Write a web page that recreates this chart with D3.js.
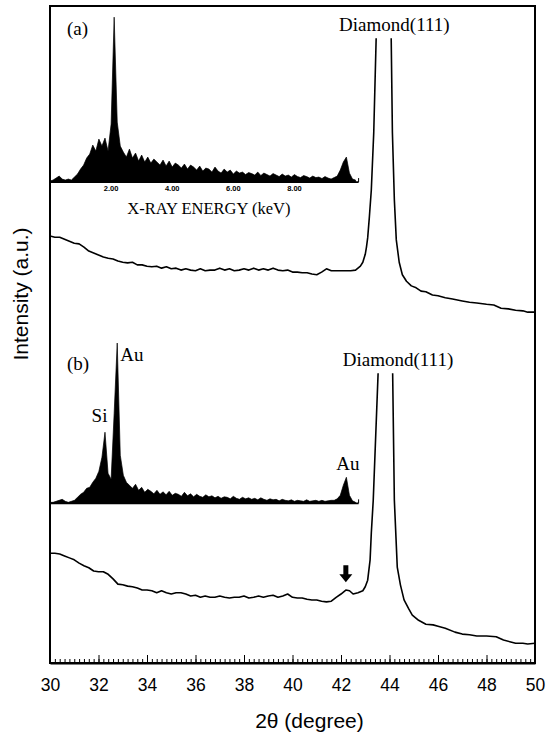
<!DOCTYPE html>
<html lang="en">
  <head>
    <meta charset="utf-8">
    <title>XRD with EDS insets</title>
    <script src="https://d3js.org/d3.v7.min.js"></script>
    <style>
      body { margin: 0; background: #fff; }
      .sans { font-family: "Liberation Sans", Arial, sans-serif; }
      .serif { font-family: "Liberation Serif", "Times New Roman", serif; }
    </style>
  </head>
  <body>
    <script type="text/javascript">
      // XRD trace (a): 2theta (deg) and intensity (a.u.)
      var thetaA = [30.0,30.2,30.4,30.6,30.8,31.0,31.2,31.4,31.6,31.8,32.0,32.2,32.4,32.6,32.8,33.0,33.2,33.4,33.6,33.8,
        34.0,34.2,34.4,34.6,34.8,35.0,35.2,35.4,35.6,35.8,36.0,36.2,36.4,36.6,36.8,37.0,37.2,37.4,37.6,37.8,
        38.0,38.2,38.4,38.6,38.8,39.0,39.2,39.4,39.6,39.8,40.0,40.2,40.4,40.6,40.8,41.0,41.2,41.4,41.6,41.8,
        42.0,42.2,42.4,42.6,42.8,42.9,43.0,43.05,43.1,43.17,43.25,43.35,43.45,43.76,44.07,44.12,44.2,44.28,44.4,44.53,
        44.7,44.9,45.1,45.3,45.5,45.77,46.0,46.3,46.6,47.0,47.3,47.6,48.0,48.3,48.6,48.9,49.2,49.5,49.7,50.0];
      var intensityA = [650,648,648,645,642,639,638,633,627,624,621,618,616,615,612,610,609,610,606,606,
        604,603,604,601,603,600,601,598,600,598,597,600,597,598,598,601,598,600,597,598,
        600,598,601,598,600,598,601,598,597,598,595,595,594,594,592,591,595,600,597,597,
        597,597,597,598,604,610,622,633,647,679,720,807,951,1400,951,807,705,644,610,591,
        581,574,571,566,565,560,559,556,554,551,549,548,546,545,540,539,537,536,534,534];

      // XRD trace (b)
      var thetaB = [30.0,30.2,30.4,30.6,30.8,31.0,31.2,31.4,31.6,31.8,32.0,32.2,32.4,32.6,32.8,33.0,33.2,33.4,33.6,33.8,
        34.0,34.2,34.4,34.6,34.8,35.0,35.2,35.4,35.6,35.8,36.0,36.2,36.4,36.6,36.8,37.0,37.2,37.4,37.6,37.8,
        38.0,38.2,38.4,38.6,38.8,39.0,39.2,39.4,39.6,39.8,40.0,40.2,40.4,40.6,40.8,41.0,41.2,41.4,41.6,41.8,
        42.0,42.2,42.35,42.5,42.7,42.9,43.0,43.1,43.2,43.25,43.33,43.53,43.83,44.13,44.2,44.32,44.45,44.6,44.8,44.94,
        45.2,45.5,45.8,46.0,46.3,46.7,47.0,47.3,47.6,48.0,48.4,48.7,49.0,49.2,49.5,49.7,50.0];
      var intensityB = [167,167,166,163,160,157,152,148,145,140,139,139,135,128,120,119,117,116,114,111,
        111,110,107,110,107,105,107,107,105,102,103,100,102,100,100,102,100,99,100,100,
        102,99,100,102,100,102,103,100,102,105,100,99,99,97,96,96,94,93,94,100,
        105,111,110,105,107,110,116,126,157,198,248,441,767,441,248,146,119,96,82,73,
        65,59,58,56,53,47,44,43,41,41,40,35,32,30,30,29,30];

      // peaks run off the top of each trace above these intensities
      var cutA = 951, cutB = 441;

      // EDS spectra, one count per 0.1 keV channel from 0 to 10 keV
      var edsStep = 0.1;
      var edsA = [10,20,40,60,30,20,30,20,50,80,130,170,240,280,370,310,430,360,440,310,
        580,1650,600,360,300,250,330,240,290,210,270,200,250,190,230,200,170,220,160,210,
        150,190,170,140,180,130,170,150,120,160,110,140,130,100,150,110,90,130,100,120,
        80,110,90,100,75,95,85,70,100,65,90,75,60,85,70,55,80,60,70,50,
        75,55,45,65,55,40,60,45,50,35,55,40,30,45,60,120,200,250,90,30,20];
      var edsB = [10,10,20,30,40,20,10,20,30,60,90,110,150,160,210,250,320,460,710,300,
        240,900,1600,480,280,210,180,150,190,130,160,110,140,120,95,130,90,115,85,120,
        80,100,90,70,110,75,95,65,90,70,60,85,65,75,55,70,50,65,60,45,
        70,50,40,60,45,55,40,50,35,55,40,30,45,35,40,25,40,30,25,35,
        20,30,25,20,35,20,25,30,20,30,20,25,30,30,45,80,180,260,80,25,10];

      var majorTicks = [30,32,34,36,38,40,42,44,46,48,50];
      var edsTicks = [2,4,6,8];
      var edsTickLabels = ["2.00","4.00","6.00","8.00"];

      //Width and height
      var w = 548;
      var h = 737;
      var margin = {top: 6, right: 13, bottom: 74, left: 50};

      var xScale = d3.scaleLinear().domain([30, 50]).range([margin.left, w - margin.right]);
      var yScale = d3.scaleLinear().domain([0, 1000]).range([h - margin.bottom, margin.top]);

      // inset placement, expressed on the main axes
      var insetX = [30.0, 42.6];           // 0 keV .. 10 keV
      var insetA = {base: 732, top: 983, max: 1650};
      var insetB = {base: 243, top: 487, max: 1600};

      var eScale = d3.scaleLinear().domain([0, 10]).range([xScale(insetX[0]), xScale(insetX[1])]);

      var svg = d3.select("body")
          .append("svg")
          .attr("width", w)
          .attr("height", h);

      svg.append("rect")
          .attr("width", w)
          .attr("height", h)
          .attr("fill", "white");

      // clip paths so the diamond peaks stop below their labels
      var defs = svg.append("defs");
      [["clipA", cutA], ["clipB", cutB]].forEach(function(c) {
        defs.append("clipPath").attr("id", c[0])
          .append("rect")
          .attr("x", xScale(30))
          .attr("y", yScale(c[1]))
          .attr("width", xScale(50) - xScale(30))
          .attr("height", yScale(0) - yScale(c[1]));
      });

      var line = d3.line()
          .x(d => xScale(d[0]))
          .y(d => yScale(d[1]));

      svg.append("path")
          .datum(d3.zip(thetaA, intensityA))
          .attr("clip-path", "url(#clipA)")
          .attr("d", line)
          .attr("fill", "none")
          .attr("stroke", "#000")
          .attr("stroke-width", 1.6)
          .attr("stroke-linejoin", "round");

      svg.append("path")
          .datum(d3.zip(thetaB, intensityB))
          .attr("clip-path", "url(#clipB)")
          .attr("d", line)
          .attr("fill", "none")
          .attr("stroke", "#000")
          .attr("stroke-width", 1.6)
          .attr("stroke-linejoin", "round");

      // EDS insets
      function drawInset(counts, inset) {
        var baseY = yScale(inset.base);
        var cScale = d3.scaleLinear().domain([0, inset.max]).range([baseY, yScale(inset.top)]);
        var area = d3.area()
            .x((d, i) => eScale(i * edsStep))
            .y0(baseY)
            .y1(d => cScale(d));
        var g = svg.append("g");
        g.append("path")
            .datum(counts)
            .attr("d", area)
            .attr("fill", "#000")
            .attr("stroke", "#000")
            .attr("stroke-width", 0.7);
        g.append("line")
            .attr("x1", eScale(0))
            .attr("x2", eScale(10.1))
            .attr("y1", baseY)
            .attr("y2", baseY)
            .attr("stroke", "#000")
            .attr("stroke-width", 1.6);
        g.append("line")
            .attr("x1", eScale(10.1))
            .attr("x2", eScale(10.1))
            .attr("y1", baseY)
            .attr("y2", baseY - 4)
            .attr("stroke", "#000")
            .attr("stroke-width", 1);
        return {g: g, cScale: cScale, baseY: baseY};
      }

      var insA = drawInset(edsA, insetA);
      var insB = drawInset(edsB, insetB);

      // inset (a) energy axis labels
      insA.g.selectAll("text.etick")
          .data(edsTicks)
          .enter().append("text")
          .attr("class", "sans")
          .attr("x", d => eScale(d))
          .attr("y", insA.baseY + 9)
          .attr("text-anchor", "middle")
          .attr("font-size", "7.5px")
          .attr("font-weight", "bold")
          .text((d, i) => edsTickLabels[i]);

      insA.g.append("text")
          .attr("class", "serif")
          .attr("x", eScale(5.2))
          .attr("y", insA.baseY + 32)
          .attr("text-anchor", "middle")
          .attr("font-size", "16.5px")
          .text("X-RAY ENERGY (keV)");

      // inset (b) peak labels
      insB.g.append("text")
          .attr("class", "serif")
          .attr("x", eScale(2.3))
          .attr("y", insB.cScale(1420))
          .attr("font-size", "19px")
          .text("Au");
      insB.g.append("text")
          .attr("class", "serif")
          .attr("x", eScale(1.62))
          .attr("y", insB.cScale(810))
          .attr("text-anchor", "middle")
          .attr("font-size", "19px")
          .text("Si");
      insB.g.append("text")
          .attr("class", "serif")
          .attr("x", eScale(9.75))
          .attr("y", insB.cScale(330))
          .attr("text-anchor", "middle")
          .attr("font-size", "19px")
          .text("Au");

      // panel labels
      var labels = [
        {t: "(a)", x: 30.7, y: 956, anchor: "start"},
        {t: "(b)", x: 30.7, y: 446, anchor: "start"},
        {t: "Diamond(111)", x: 44.2, y: 962, anchor: "middle"},
        {t: "Diamond(111)", x: 44.35, y: 452, anchor: "middle"}
      ];
      svg.selectAll("text.panel")
          .data(labels)
          .enter().append("text")
          .attr("class", "serif")
          .attr("x", d => xScale(d.x))
          .attr("y", d => yScale(d.y))
          .attr("text-anchor", d => d.anchor)
          .attr("font-size", "19px")
          .text(d => d.t);

      // arrow over the small bump in (b)
      var arrowX = xScale(42.2), arrowY = yScale(123);
      svg.append("path")
          .attr("d", `M${arrowX},${arrowY} l-6.5,-8 l4,0 l0,-9 l5,0 l0,9 l4,0 Z`)
          .attr("fill", "#000");

      // frame
      svg.append("rect")
          .attr("x", xScale(30))
          .attr("y", yScale(1000))
          .attr("width", xScale(50) - xScale(30))
          .attr("height", yScale(0) - yScale(1000))
          .attr("fill", "none")
          .attr("stroke", "#000")
          .attr("stroke-width", 2);

      // x axis: minor and major ticks pointing inward
      svg.append("g")
          .attr("transform", `translate(0, ${yScale(0)})`)
          .call(d3.axisBottom(xScale)
            .tickValues(d3.range(30, 50.001, 0.2))
            .tickSizeInner(-4)
            .tickSizeOuter(0)
            .tickFormat(""))
          .call(g => g.select(".domain").remove());

      var xAxis = svg.append("g")
          .attr("transform", `translate(0, ${yScale(0)})`)
          .call(d3.axisBottom(xScale)
            .tickValues(majorTicks)
            .tickSizeInner(-8)
            .tickSizeOuter(0)
            .tickPadding(15.5)
            .tickFormat(d3.format("d")));
      xAxis.select(".domain").attr("stroke-width", 2);
      xAxis.selectAll("text")
          .attr("class", "sans")
          .attr("font-size", "17.5px")
          .attr("fill", "#000");

      // axis titles
      svg.append("text")
          .attr("class", "sans")
          .attr("x", xScale(40.7))
          .attr("y", 728)
          .attr("text-anchor", "middle")
          .attr("font-size", "21px")
          .text("2\u03b8  (degree)");

      svg.append("text")
          .attr("class", "sans")
          .attr("transform", "translate(28, 294) rotate(-90)")
          .attr("text-anchor", "middle")
          .attr("font-size", "21px")
          .text("Intensity  (a.u.)");
    </script>
  </body>
</html>
